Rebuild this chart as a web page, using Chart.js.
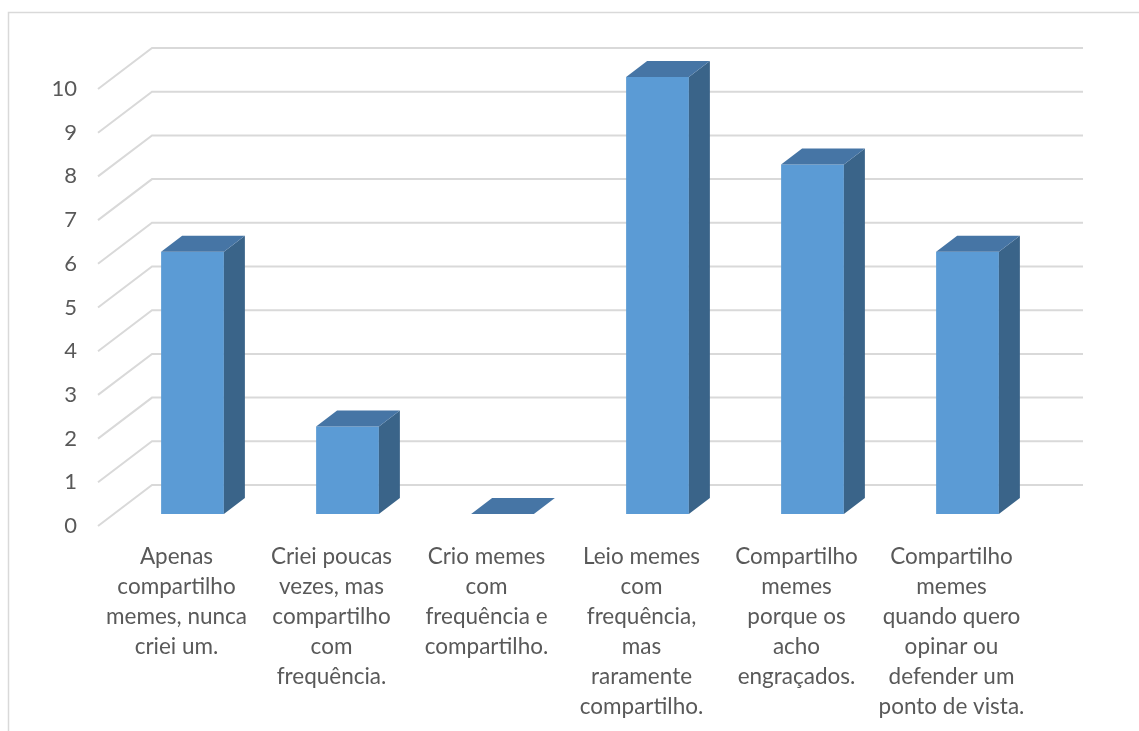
<!DOCTYPE html>
<html>
<head>
<meta charset="utf-8">
<script src="https://cdn.jsdelivr.net/npm/chart.js@4"></script>
<style>
  html, body { margin: 0; padding: 0; background: #fff; }
  #wrap { width: 1139px; height: 731px; position: relative; }
</style>
</head>
<body>
<div id="wrap"><canvas id="memes_chart"></canvas></div>
<script>
// categorias (quebradas em linhas como no original)
var categories = [
  ['Apenas', 'compartilho', 'memes, nunca', 'criei um.'],
  ['Criei poucas', 'vezes, mas', 'compartilho', 'com', 'frequência.'],
  ['Crio memes', 'com', 'frequência e', 'compartilho.'],
  ['Leio memes', 'com', 'frequência,', 'mas', 'raramente', 'compartilho.'],
  ['Compartilho', 'memes', 'porque os', 'acho', 'engraçados.'],
  ['Compartilho', 'memes', 'quando quero', 'opinar ou', 'defender um', 'ponto de vista.']
]
var values = [6, 2, 0, 10, 8, 6]
var yTicks = [0, 1, 2, 3, 4, 5, 6, 7, 8, 9, 10]

var FONT = 'Lato'
var TEXT = '#595959'
var GRID = '#d9d9d9'

// fake 3d: piso/parede + faces das barras
var depth3d = {
  id: 'depth3d',
  beforeDatasetsDraw: function (chart) {
    var ctx = chart.ctx
    var y = chart.scales.y
    ctx.save()
    // moldura
    ctx.strokeStyle = GRID
    ctx.lineWidth = 1.5
    ctx.strokeRect(8.5, 12.5, 1300, 900)
    ctx.lineWidth = 2
    yTicks.forEach(function (v) {
      var py = y.getPixelForValue(v)
      ctx.beginPath()
      ctx.moveTo(98, py + 12)
      ctx.lineTo(152, py - 29)
      ctx.lineTo(1083, py - 29)
      ctx.stroke()
    })
    ctx.restore()
  },
  afterDatasetsDraw: function (chart) {
    var ctx = chart.ctx
    var meta = chart.getDatasetMeta(0)
    var dx = 21, dy = -16
    ctx.save()
    meta.data.forEach(function (bar) {
      var p = bar.getProps(['x', 'y', 'base', 'width'], true)
      var l = p.x - p.width / 2, r = p.x + p.width / 2
      // lado
      ctx.fillStyle = '#3a6489'
      ctx.beginPath()
      ctx.moveTo(r, p.base)
      ctx.lineTo(r, p.y)
      ctx.lineTo(r + dx, p.y + dy)
      ctx.lineTo(r + dx, p.base + dy)
      ctx.closePath()
      ctx.fill()
      // topo
      ctx.fillStyle = '#4675a5'
      ctx.beginPath()
      ctx.moveTo(l, p.y)
      ctx.lineTo(r, p.y)
      ctx.lineTo(r + dx, p.y + dy)
      ctx.lineTo(l + dx, p.y + dy)
      ctx.closePath()
      ctx.fill()
    })
    ctx.restore()
  }
}

var ctx = document.getElementById('memes_chart').getContext('2d')
var myChart = new Chart(ctx, {
  type: 'bar',
  data: {
    labels: categories,
    datasets: [
      {
        data: values,
        backgroundColor: '#5b9bd5',
        borderWidth: 0,
        categoryPercentage: 1,
        barPercentage: 0.405,
      },
    ],
  },
  options: {
    responsive: true,
    maintainAspectRatio: false,
    animation: false,
    events: [],
    layout: { padding: { left: 0, top: 77, right: 94, bottom: 0 } },
    plugins: { legend: { display: false }, tooltip: { enabled: false } },
    scales: {
      x: {
        grid: { display: false, drawTicks: false },
        border: { display: false },
        ticks: {
          color: TEXT,
          maxRotation: 0,
          autoSkip: false,
          padding: 28,
          labelOffset: -16,
          font: { family: FONT, size: 22.5, lineHeight: '30px' },
        },
        afterFit: function (s) { s.height = 217 },
      },
      y: {
        min: 0,
        max: 10,
        grid: { display: false, drawTicks: false },
        border: { display: false },
        ticks: {
          stepSize: 1,
          color: TEXT,
          padding: 38,
          labelOffset: 12,
          font: { family: FONT, size: 22 },
        },
        afterFit: function (s) { s.width = 115 },
      },
    },
  },
  plugins: [depth3d],
})
</script>
</body>
</html>
